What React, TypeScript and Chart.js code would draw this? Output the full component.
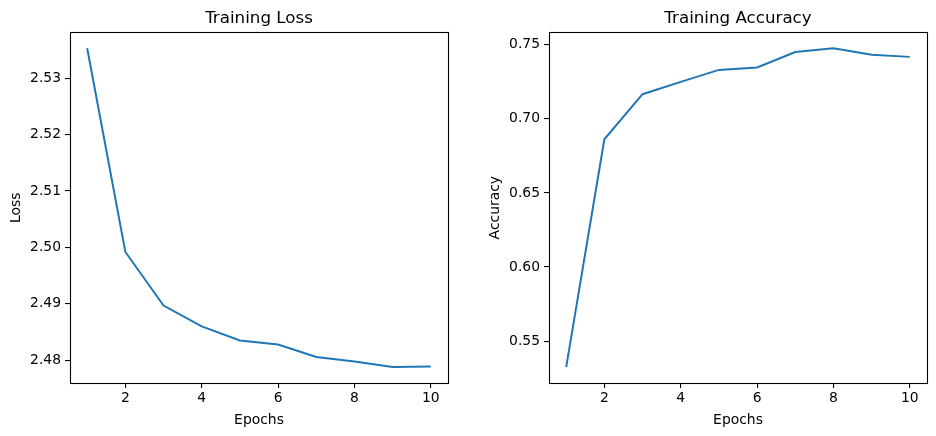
import React, { useEffect, useRef } from "react";
import { Chart, registerables } from "chart.js";

Chart.register(...registerables);

const epochs = [1, 2, 3, 4, 5, 6, 7, 8, 9, 10];
const lossValues = [2.5353, 2.4992, 2.4897, 2.486, 2.4835, 2.4828, 2.4806, 2.4798, 2.4788, 2.4789];
const accuracyValues = [0.5325, 0.6862, 0.7166, 0.7249, 0.733, 0.7346, 0.7451, 0.7476, 0.7433, 0.7418];
const xTicks = [2, 4, 6, 8, 10];
const lossTicks = [2.48, 2.49, 2.5, 2.51, 2.52, 2.53];
const accuracyTicks = [0.55, 0.6, 0.65, 0.7, 0.75];

const FONT = "'DejaVu Sans', sans-serif";
const LINE = "#1f77b4";

function range(vals: number[]) {
  const mn = Math.min(...vals);
  const mx = Math.max(...vals);
  const m = (mx - mn) * 0.05;
  return { min: mn - m, max: mx + m };
}

const boxPlugin = {
  id: "boxPlugin",
  afterDatasetsDraw(chart: any) {
    const { ctx, chartArea } = chart;
    ctx.save();
    ctx.strokeStyle = "#000";
    ctx.lineWidth = 1.1;
    ctx.strokeRect(
      Math.round(chartArea.left) + 0.5,
      Math.round(chartArea.top) + 0.5,
      Math.round(chartArea.right) - Math.round(chartArea.left),
      Math.round(chartArea.bottom) - Math.round(chartArea.top)
    );
    ctx.restore();
  },
};

interface PanelProps {
  title: string;
  yLabel: string;
  values: number[];
  yTicks: number[];
  yAxisWidth: number;
  yTitlePad: number;
  padRight: number;
  left: number;
}

function Panel(p: PanelProps) {
  const ref = useRef<HTMLCanvasElement>(null);
  useEffect(() => {
    const xr = range(epochs);
    const yr = range(p.values);
    const chart = new Chart(ref.current!, {
      type: "line",
      data: {
        datasets: [
          {
            data: epochs.map((e, i) => ({ x: e, y: p.values[i] })),
            borderColor: LINE,
            borderWidth: 2,
            pointRadius: 0,
            tension: 0,
            fill: false,
          },
        ],
      },
      plugins: [boxPlugin],
      options: {
        responsive: false,
        animation: false,
        devicePixelRatio: 1,
        layout: { padding: { left: 0, right: p.padRight, top: 0, bottom: 0 } },
        plugins: {
          legend: { display: false },
          tooltip: { enabled: false },
          title: {
            display: true,
            text: p.title,
            fullSize: false,
            color: "#000",
            font: { family: FONT, size: 16.7, weight: "normal", lineHeight: 1.2 },
            padding: { top: 8.5, bottom: 3.8 },
          },
        },
        scales: {
          x: {
            type: "linear",
            min: xr.min,
            max: xr.max,
            afterBuildTicks: (s: any) => {
              s.ticks = xTicks.map((v) => ({ value: v }));
            },
            afterFit: (s: any) => {
              s.height = 53;
            },
            border: { display: false },
            grid: {
              display: true,
              drawOnChartArea: false,
              drawTicks: true,
              tickLength: 5,
              color: "#000",
              lineWidth: 1.1,
            },
            ticks: {
              color: "#000",
              padding: 2,
              maxRotation: 0,
              font: { family: FONT, size: 13.9, lineHeight: 1.2 },
              callback: (v: any) => String(v),
            },
            title: {
              display: true,
              text: "Epochs",
              color: "#000",
              font: { family: FONT, size: 13.9, lineHeight: 1.2 },
              padding: { top: 0, bottom: 7.5 },
            },
          },
          y: {
            type: "linear",
            min: yr.min,
            max: yr.max,
            afterBuildTicks: (s: any) => {
              s.ticks = p.yTicks.map((v) => ({ value: v }));
            },
            afterFit: (s: any) => {
              s.width = p.yAxisWidth;
            },
            border: { display: false },
            grid: {
              display: true,
              drawOnChartArea: false,
              drawTicks: true,
              tickLength: 5,
              color: "#000",
              lineWidth: 1.1,
            },
            ticks: {
              color: "#000",
              padding: 4,
              font: { family: FONT, size: 13.9, lineHeight: 1.2 },
              callback: (v: any) => Number(v).toFixed(2),
            },
            title: {
              display: true,
              text: p.yLabel,
              color: "#000",
              font: { family: FONT, size: 13.9, lineHeight: 1.2 },
              padding: { top: p.yTitlePad, bottom: 0 },
            },
          },
        },
      },
    } as any);
    return () => chart.destroy();
  }, []);
  return (
    <canvas
      ref={ref}
      width={468}
      height={436}
      style={{ position: "absolute", left: p.left, top: 0, width: 468, height: 436 }}
    />
  );
}

export default function App() {
  return (
    <div
      style={{
        position: "fixed",
        left: 0,
        top: 0,
        width: 936,
        height: 436,
        background: "#fff",
        overflow: "hidden",
      }}
    >
      <Panel
        title="Training Loss"
        yLabel="Loss"
        values={lossValues}
        yTicks={lossTicks}
        yAxisWidth={70}
        yTitlePad={8.4}
        padRight={20}
        left={0}
      />
      <Panel
        title="Training Accuracy"
        yLabel="Accuracy"
        values={accuracyValues}
        yTicks={accuracyTicks}
        yAxisWidth={81}
        yTitlePad={18.7}
        padRight={9}
        left={468}
      />
    </div>
  );
}
